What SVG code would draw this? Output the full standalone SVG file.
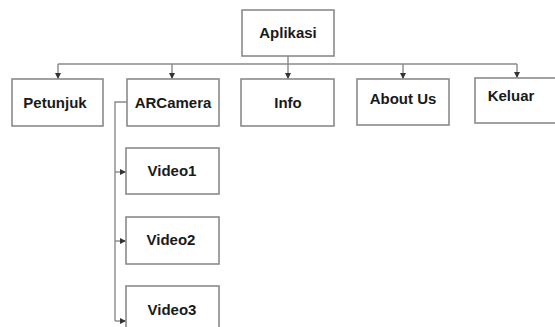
<svg xmlns="http://www.w3.org/2000/svg" width="555" height="327" viewBox="0 0 555 327">
<style>
.box{fill:#fff;stroke:#8a8a8a;stroke-width:1.6}
.lbl{font-family:"Liberation Sans",Arial,sans-serif;font-weight:bold;font-size:15px;fill:#1a1a1a;text-anchor:middle}
.ln{fill:none;stroke:#8a8a8a;stroke-width:1.4}
</style>
<defs>
<marker id="ah" viewBox="0 0 6 6" refX="6" refY="3" markerWidth="6" markerHeight="6" markerUnits="userSpaceOnUse" orient="auto">
<path d="M0,0 L6,3 L0,6 Z" fill="#333"/>
</marker>
</defs>
<rect width="555" height="327" fill="#fff"/>
<g id="connectors">
<path class="ln" d="M288,56 V79" marker-end="url(#ah)"/>
<path class="ln" d="M58,64 H517"/>
<path class="ln" d="M58,64 V79" marker-end="url(#ah)"/>
<path class="ln" d="M172,64 V79" marker-end="url(#ah)"/>
<path class="ln" d="M403,64 V79" marker-end="url(#ah)"/>
<path class="ln" d="M517,64 V78" marker-end="url(#ah)"/>
<path class="ln" d="M127,102 H115 V321"/>
<path class="ln" d="M115,172 H126" marker-end="url(#ah)"/>
<path class="ln" d="M115,241 H126" marker-end="url(#ah)"/>
<path class="ln" d="M115,321 H126" marker-end="url(#ah)"/>
</g>
<g id="aplikasi"><rect class="box" x="242" y="10" width="92" height="46"/><text class="lbl" x="288" y="38">Aplikasi</text></g>
<g id="petunjuk"><rect class="box" x="12" y="79" width="91" height="47"/><text class="lbl" x="55" y="108">Petunjuk</text></g>
<g id="arcamera"><rect class="box" x="127" y="79" width="92" height="47"/><text class="lbl" x="173" y="108">ARCamera</text></g>
<g id="info"><rect class="box" x="241" y="79" width="93" height="47"/><text class="lbl" x="288" y="108">Info</text></g>
<g id="aboutus"><rect class="box" x="357" y="79" width="92" height="46"/><text class="lbl" x="403" y="104">About Us</text></g>
<g id="keluar"><rect class="box" x="475" y="78" width="82" height="45"/><text class="lbl" x="511" y="101">Keluar</text></g>
<g id="video1"><rect class="box" x="126" y="148" width="93" height="46"/><text class="lbl" x="172" y="176">Video1</text></g>
<g id="video2"><rect class="box" x="126" y="217" width="93" height="47"/><text class="lbl" x="171" y="245">Video2</text></g>
<g id="video3"><rect class="box" x="126" y="286" width="93" height="50"/><text class="lbl" x="172" y="315">Video3</text></g>
</svg>
